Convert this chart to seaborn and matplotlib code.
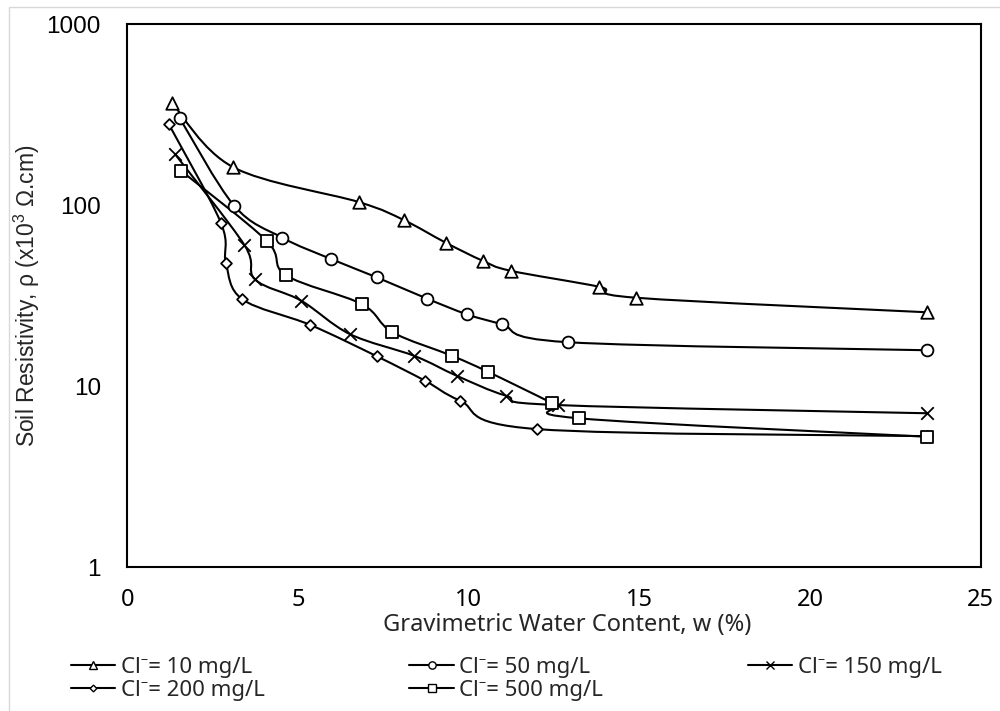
import numpy as np
import pandas as pd
import matplotlib
matplotlib.use("Agg")
import matplotlib.pyplot as plt
from matplotlib.path import Path
from matplotlib.patches import PathPatch, Rectangle
from matplotlib.lines import Line2D
from matplotlib.ticker import FixedLocator, NullFormatter, LogLocator
import seaborn as sns

# ---------------- data ----------------
w10 = [1.31, 3.10, 6.78, 8.10, 9.33, 10.41, 11.23, 13.83, 14.91, 23.44]
r10 = [366, 162, 104, 82.7, 62.0, 49.3, 43.4, 35.4, 30.8, 25.6]

w50 = [1.54, 3.13, 4.54, 5.97, 7.31, 8.79, 9.96, 10.97, 12.91, 23.44]
r50 = [301, 99.3, 66.1, 50.4, 39.9, 30.4, 24.9, 22.0, 17.5, 15.8]

w150 = [1.40, 3.43, 3.74, 5.09, 6.52, 8.41, 9.66, 11.09, 12.61, 23.44]
r150 = [191, 60.2, 38.9, 29.7, 19.4, 14.7, 11.4, 8.87, 7.87, 7.09]

w200 = [1.22, 2.74, 2.89, 3.37, 5.36, 7.32, 8.73, 9.75, 11.99, 23.44]
r200 = [279, 80, 47.7, 30.2, 21.8, 14.6, 10.7, 8.32, 5.80, 5.30]

w500 = [1.57, 4.08, 4.64, 6.87, 7.76, 9.52, 10.57, 12.45, 13.23, 23.44]
r500 = [155, 63.6, 41.1, 28.4, 19.9, 14.7, 12.0, 8.05, 6.65, 5.26]

labels = ["Cl\u207b= 10 mg/L", "Cl\u207b= 50 mg/L", "Cl\u207b= 150 mg/L",
          "Cl\u207b= 200 mg/L", "Cl\u207b= 500 mg/L"]
xticks = [0, 5, 10, 15, 20, 25]
yticks = [1, 10, 100, 1000]

series = [
    (w10, r10, labels[0], "^", 9.0),
    (w50, r50, labels[1], "o", 8.5),
    (w150, r150, labels[2], "x", 9.0),
    (w200, r200, labels[3], "D", 5.5),
    (w500, r500, labels[4], "s", 8.5),
]

# ---------------- style ----------------
sns.set_style("white")
plt.rcParams["font.family"] = ["Liberation Sans", "DejaVu Sans"]
plt.rcParams["mathtext.fontset"] = "custom"
plt.rcParams["mathtext.rm"] = "Liberation Sans"
plt.rcParams["mathtext.it"] = "Liberation Sans"
AP = ["Noto Sans", "DejaVu Sans"]   # Aptos-like family for x axis / legend

fig = plt.figure(figsize=(10, 7.11), dpi=100)
fig.patch.set_facecolor("white")
ax = fig.add_axes([0.1273, 0.2021, 0.8534, 0.7641])


def smooth_path(xs, ys):
    """Catmull-Rom style Bezier path (Excel smoothed line) in x / log10(y) space."""
    px = np.asarray(xs, float)
    py = np.log10(np.asarray(ys, float))
    n = len(px)
    verts = [(px[0], py[0])]
    codes = [Path.MOVETO]
    for i in range(n - 1):
        p0 = (px[max(i - 1, 0)], py[max(i - 1, 0)])
        p1 = (px[i], py[i])
        p2 = (px[i + 1], py[i + 1])
        p3 = (px[min(i + 2, n - 1)], py[min(i + 2, n - 1)])
        c1 = (p1[0] + (p2[0] - p0[0]) / 6.0, p1[1] + (p2[1] - p0[1]) / 6.0)
        c2 = (p2[0] - (p3[0] - p1[0]) / 6.0, p2[1] - (p3[1] - p1[1]) / 6.0)
        verts += [c1, c2, p2]
        codes += [Path.CURVE4] * 3
    verts = [(vx, 10 ** vy) for vx, vy in verts]
    return Path(verts, codes)


handles = []
for xs, ys, lab, mk, ms in series:
    ax.add_patch(PathPatch(smooth_path(xs, ys), facecolor="none",
                           edgecolor="black", lw=1.5, zorder=2,
                           capstyle="round", joinstyle="round"))
    df = pd.DataFrame({"w": xs, "rho": ys})
    if mk == "x":
        sns.scatterplot(data=df, x="w", y="rho", ax=ax, marker="x",
                        s=ms ** 2, color="black", linewidth=1.3, zorder=3,
                        legend=False)
    else:
        sns.scatterplot(data=df, x="w", y="rho", ax=ax, marker=mk,
                        s=ms ** 2, facecolor="white", edgecolor="black",
                        linewidth=1.3, zorder=3, legend=False)
    handles.append(Line2D([], [], color="black", lw=1.5, marker=mk,
                          markersize=ms * 0.62,
                          markerfacecolor="white" if mk != "x" else "black",
                          markeredgecolor="black", markeredgewidth=1.0,
                          label=lab))

ax.set_yscale("log")
ax.set_xlim(0, 25)
ax.set_ylim(1, 1000)

ax.xaxis.set_major_locator(FixedLocator(xticks))
ax.xaxis.set_minor_locator(FixedLocator(np.arange(0, 25.01, 1)))
ax.yaxis.set_major_locator(FixedLocator(yticks))
ax.yaxis.set_minor_locator(LogLocator(base=10, subs=np.arange(2, 10)))
ax.yaxis.set_minor_formatter(NullFormatter())
ax.set_yticklabels([str(v) for v in yticks])
ax.set_xticklabels([str(v) for v in xticks])

ax.tick_params(axis="both", which="major", direction="inout", length=10,
               width=1.5, colors="black")
ax.tick_params(axis="both", which="minor", direction="out", length=4.5,
               width=1.3)
ax.tick_params(axis="x", which="major", pad=10, labelsize=17)
ax.tick_params(axis="y", which="major", pad=14, labelsize=17.5)
for t in ax.get_xticklabels():
    t.set_family(AP)
for s in ax.spines.values():
    s.set_linewidth(1.5)
    s.set_color("black")

ax.set_xlabel("Gravimetric Water Content, w (%)", family=AP, fontsize=17,
              labelpad=0)
ax.xaxis.set_label_coords(0.515, -0.085)
ax.set_ylabel("Soil Resistivity, \u03c1 (x10$^{3}$ \u03a9.cm)", fontsize=16.5,
              labelpad=0)
ax.yaxis.set_label_coords(-0.100, 0.50)

order = [0, 3, 1, 4, 2]
leg = fig.legend([handles[i] for i in order], [labels[i] for i in order],
                 loc="upper left", bbox_to_anchor=(0.071, 0.076), ncol=3,
                 frameon=False, prop={"family": AP, "size": 16},
                 handlelength=2.0, handletextpad=0.25, columnspacing=6.5,
                 labelspacing=0.1, borderpad=0, borderaxespad=0)

fig.add_artist(Rectangle((0.009, -0.01), 1.0, 1.0 - 0.0098 + 0.01,
                         transform=fig.transFigure, fill=False,
                         edgecolor="#d9d9d9", lw=1.0))

fig.savefig("out.png", dpi=100, facecolor="white")
